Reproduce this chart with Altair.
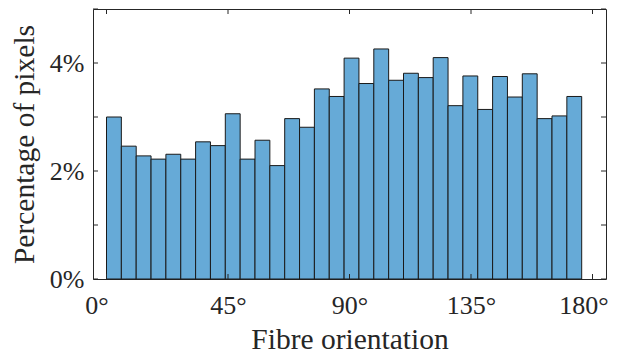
import altair as alt
import pandas as pd

# Histogram of fibre orientation: 32 bins of 5.5 degrees from 0 to 176
bin_width = 5.5
percentages = [
    3.00, 2.46, 2.28, 2.22, 2.31, 2.22, 2.54, 2.47,
    3.06, 2.22, 2.57, 2.10, 2.97, 2.81, 3.52, 3.38,
    4.09, 3.62, 4.26, 3.68, 3.81, 3.73, 4.10, 3.21,
    3.76, 3.14, 3.75, 3.37, 3.80, 2.97, 3.02, 3.38,
]
x_ticks = [0, 45, 90, 135, 180]
y_ticks = [0, 1, 2, 3, 4, 5]
y_labels = [0, 2, 4]

bins = pd.DataFrame({
    "start": [i * bin_width for i in range(len(percentages))],
    "end": [(i + 1) * bin_width for i in range(len(percentages))],
    "pct": percentages,
})
xt = pd.DataFrame({"start": x_ticks})
yt = pd.DataFrame({"pct": y_ticks})

W, H = 513, 270
FONT = "Liberation Serif"
TXT = "#262626"

xscale = alt.Scale(domain=[-5, 185], nice=False, zero=False)
yscale = alt.Scale(domain=[0, 5], nice=False)

bars = alt.Chart(bins).mark_rect(
    fill="#66AAD7", stroke="#1a1a1a", strokeWidth=1
).encode(
    x=alt.X("start:Q", scale=xscale, title="Fibre orientation", axis=alt.Axis(
        values=x_ticks, labelExpr="datum.value + '°'", labelPadding=13,
        labelOffset={"condition": [
            {"test": "datum.value == 0", "value": -10},
            {"test": "datum.value == 180", "value": -9},
        ], "value": 0},
        titlePadding=7)),
    x2="end:Q",
    y=alt.Y("pct:Q", scale=yscale, title="Percentage of pixels", axis=alt.Axis(
        values=y_labels, labelExpr="datum.value + '%'", labelPadding=9,
        titlePadding=10)),
)

tick_style = dict(color=TXT, strokeWidth=1)
xb = alt.Chart(xt).mark_rule(**tick_style).encode(
    x=alt.X("start:Q", scale=xscale), y=alt.value(H), y2=alt.value(H - 5))
xtop = alt.Chart(xt).mark_rule(**tick_style).encode(
    x=alt.X("start:Q", scale=xscale), y=alt.value(0), y2=alt.value(5))
yl = alt.Chart(yt).mark_rule(**tick_style).encode(
    y=alt.Y("pct:Q", scale=yscale), x=alt.value(0), x2=alt.value(5))
yr = alt.Chart(yt).mark_rule(**tick_style).encode(
    y=alt.Y("pct:Q", scale=yscale), x=alt.value(W - 5), x2=alt.value(W))

chart = alt.layer(bars, xb, xtop, yl, yr).properties(
    width=W, height=H,
    autosize=alt.AutoSizeParams(type="none"),
    padding={"left": 85, "top": 1, "right": 2, "bottom": 73},
).configure_axis(
    domain=False, ticks=False, grid=False,
    labelFont=FONT, labelFontSize=26, labelColor=TXT, labelFlush=False,
    titleFont=FONT, titleFontSize=29.5, titleFontWeight="normal", titleColor=TXT,
).configure_view(stroke=TXT, strokeWidth=1)

chart.save("out.html", embed_options={"renderer": "svg", "actions": False})
